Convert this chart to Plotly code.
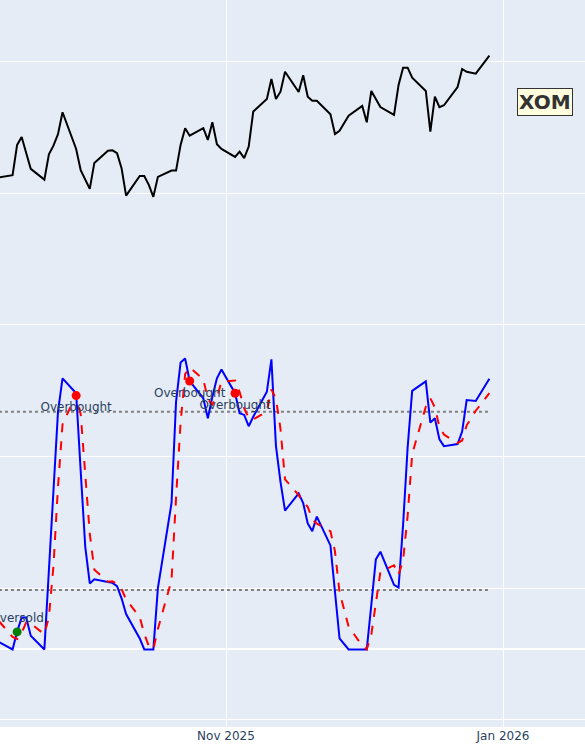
import plotly.graph_objects as go

dates = [
    "2025-09-12", "2025-09-15", "2025-09-16", "2025-09-17", "2025-09-18", "2025-09-19",
    "2025-09-22", "2025-09-23", "2025-09-24", "2025-09-25", "2025-09-26", "2025-09-29", "2025-09-30",
    "2025-10-01", "2025-10-02", "2025-10-03", "2025-10-06", "2025-10-07", "2025-10-08", "2025-10-09",
    "2025-10-10", "2025-10-13", "2025-10-14", "2025-10-15", "2025-10-16", "2025-10-17", "2025-10-20",
    "2025-10-21", "2025-10-22", "2025-10-23", "2025-10-24", "2025-10-27", "2025-10-28", "2025-10-29",
    "2025-10-30", "2025-10-31",
    "2025-11-03", "2025-11-04", "2025-11-05", "2025-11-06", "2025-11-07", "2025-11-10", "2025-11-11",
    "2025-11-12", "2025-11-13", "2025-11-14", "2025-11-17", "2025-11-18", "2025-11-19", "2025-11-20",
    "2025-11-21", "2025-11-24", "2025-11-25", "2025-11-26", "2025-11-28",
    "2025-12-01", "2025-12-02", "2025-12-03", "2025-12-04", "2025-12-05", "2025-12-08", "2025-12-09",
    "2025-12-10", "2025-12-11", "2025-12-12", "2025-12-15", "2025-12-16", "2025-12-17", "2025-12-18",
    "2025-12-19", "2025-12-22", "2025-12-23", "2025-12-24", "2025-12-26", "2025-12-29",
]

close = [
    111.20, 111.37, 113.67, 114.27, 113.06, 111.85, 111.03, 112.96, 113.61, 114.48, 116.15, 113.36, 111.75,
    111.05, 110.33, 112.30, 113.23, 113.26, 113.04, 111.90, 109.82, 111.31, 111.31, 110.63, 109.72, 111.24,
    111.72, 111.72, 113.67, 114.94, 114.37, 114.94, 114.05, 115.39, 113.72, 113.36,
    112.76, 113.16, 112.66, 113.54, 116.20, 117.16, 118.68, 117.16, 117.71, 119.23, 117.69, 118.96, 117.33,
    117.03, 117.03, 116.00, 114.50, 114.75, 115.89,
    116.63, 115.39, 117.77, 117.16, 116.55, 115.95, 118.22, 119.54, 119.54, 118.78, 117.77, 114.68, 117.33,
    116.53, 116.68, 118.07, 119.44, 119.23, 119.08, 120.45,
]

stoch_k = [
    2.5, 0, 6, 10.7, 10.7, 4.6, 0, 28, 56, 80, 91.2, 86.2, 60,
    34.6, 22.2, 23.6, 22.7, 22.4, 21.3, 17.2, 11.9, 3.7, 0, 0, 0, 20.6, 49.2, 83.3, 96.5, 97.9, 90.3,
    84.5, 77.8, 85, 91.2, 94.2,
    86.2, 79.5, 78.9, 75.1, 78.3, 86.7, 97.6, 68.5, 56.4, 46.7, 52.5, 49.2, 42.4, 39.8, 44.7, 35, 19.3,
    3.7, 0,
    0, 0, 15, 30.3, 32.9, 21.7, 20.8, 42, 68, 87, 90.2, 76.3, 77.8, 70.7, 68.4, 69.1, 73.3, 83.9, 83.6, 91.1,
]

stoch_d = [
    9.5, 4.2, 3.5, 5.6, 9.1, 8.7, 5.1, 10.9, 28, 54.7, 75.7, 85.8, 79.1,
    60.3, 38.9, 26.8, 22.8, 22.9, 22.1, 20.3, 16.8, 10.9, 5.2, 1.2, 0, 6.9, 23.3, 51, 76.3, 92.6, 94.9,
    90.9, 84.2, 82.4, 84.7, 90.1,
    90.5, 86.6, 81.2, 77.8, 77.4, 80, 87.5, 84.3, 74.2, 57.2, 51.9, 49.5, 48, 43.8, 42.3, 39.8, 33, 19.3,
    7.7,
    1.2, 0, 5, 15.1, 26.1, 28.3, 25.1, 30, 45, 65.7, 81.7, 84.5, 81.4, 74.9, 72.3, 69.4, 70.3, 75.4, 80.3,
    86.2,
]

overbought_dates = ["2025-09-29", "2025-10-24", "2025-11-03"]
overbought_vals = [85.4, 90.3, 86.2]
oversold_dates = ["2025-09-16"]
oversold_vals = [5.9]

upper_level = 80
lower_level = 20
ticker = "XOM"

fig = go.Figure()

fig.add_trace(go.Scatter(x=dates, y=close, mode="lines",
                         line=dict(color="black", width=2), name="Close", yaxis="y"))

fig.add_trace(go.Scatter(x=[dates[0], dates[-1]], y=[upper_level, upper_level], mode="lines",
                         line=dict(color="gray", width=2, dash="dot"), yaxis="y2", name="80"))
fig.add_trace(go.Scatter(x=[dates[0], dates[-1]], y=[lower_level, lower_level], mode="lines",
                         line=dict(color="gray", width=2, dash="dot"), yaxis="y2", name="20"))

fig.add_trace(go.Scatter(x=dates, y=stoch_k, mode="lines",
                         line=dict(color="blue", width=2), name="%K", yaxis="y2"))
fig.add_trace(go.Scatter(x=dates, y=stoch_d, mode="lines",
                         line=dict(color="red", width=2, dash="dash"), name="%D", yaxis="y2"))

fig.add_trace(go.Scatter(x=overbought_dates, y=overbought_vals, mode="markers+text",
                         marker=dict(color="red", size=9), text=["Overbought"] * len(overbought_dates),
                         textposition="bottom center", textfont=dict(size=12, color="#2a3f5f"),
                         yaxis="y2", name="Overbought"))
fig.add_trace(go.Scatter(x=oversold_dates, y=oversold_vals, mode="markers+text",
                         marker=dict(color="green", size=9), text=["Oversold"] * len(oversold_dates),
                         textposition="top center", textfont=dict(size=12, color="#2a3f5f"),
                         yaxis="y2", name="Oversold"))

fig.add_annotation(text="<b>" + ticker + "</b>", xref="paper", yref="paper",
                   x=545 / 585, y=1 - 102 / 727, xanchor="center", yanchor="middle",
                   showarrow=False,
                   font=dict(size=20, color="#333333"), bgcolor="lightyellow",
                   bordercolor="#333333", borderwidth=1, borderpad=1)

fig.update_layout(
    template="plotly",
    width=585, height=751,
    font=dict(family="DejaVu Sans", size=12),
    margin=dict(l=0, r=0, t=0, b=24),
    showlegend=False,
    xaxis=dict(range=["2025-09-12 05:30", "2026-01-19 01:25"], dtick="M2", tick0="2025-11-01",
               tickformat="%b %Y", showgrid=True),
    yaxis=dict(range=[69.44, 124.68], dtick=10, tick0=0, showticklabels=False, zeroline=False),
    yaxis2=dict(range=[-26.1, 218.5], overlaying="y", showgrid=False, zeroline=True,
                showticklabels=False),
)

fig.write_html("out.html", config={"displayModeBar": False},
               post_script="document.body.style.margin='0px';")
